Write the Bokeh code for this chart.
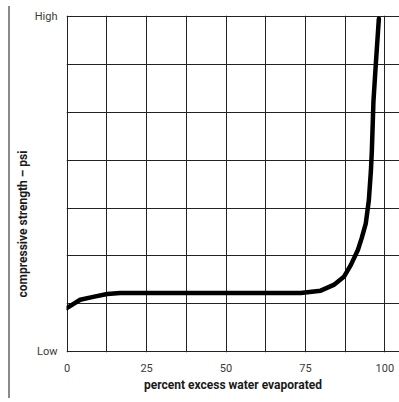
from bokeh.plotting import figure
from bokeh.models import FixedTicker, Range1d, Div
from bokeh.layouts import row
from bokeh.embed import file_html
from bokeh.resources import INLINE

# data
pct_evaporated = [0, 4.1, 8.2, 12.6, 16.7, 73.5, 79.8, 83.9, 87.1, 89.3, 91.5, 92.7, 94.0, 94.95, 95.6, 95.9, 96.4, 97.2, 98.1]
strength = [0.91, 1.08, 1.14, 1.20, 1.22, 1.22, 1.27, 1.39, 1.56, 1.81, 2.12, 2.37, 2.68, 3.16, 3.78, 4.2, 5.23, 6.07, 6.96]
x_ticks = [0, 25, 50, 75, 100]
x_grid = [0, 12.5, 25, 37.5, 50, 62.5, 75, 87.5, 100]
y_grid = [0, 1, 2, 3, 4, 5, 6, 7]
y_tick_labels = {0: "Low", 7: "High"}
x_title = "percent excess water evaporated"
y_title = "compressive strength \u2013 psi"

FONT = "Roboto"

p = figure(width=368, height=400, output_backend="svg", toolbar_location=None,
           x_range=Range1d(-0.2, 104.6), y_range=Range1d(-0.025, 7.03),
           min_border_left=26, min_border_right=0, min_border_top=15, min_border_bottom=48)
p.outline_line_color = None

p.line(pct_evaporated, strength, line_width=4.5, line_color="black", line_cap="round", line_join="round")

p.xgrid.ticker = FixedTicker(ticks=x_grid)
p.ygrid.ticker = FixedTicker(ticks=y_grid)
for g in (p.xgrid, p.ygrid):
    g.grid_line_color = "#222222"
    g.grid_line_width = 1
    g.grid_line_alpha = 1

p.xaxis.ticker = FixedTicker(ticks=x_ticks)
p.yaxis.ticker = FixedTicker(ticks=list(y_tick_labels.keys()))
p.yaxis.major_label_overrides = y_tick_labels

for ax in (p.xaxis, p.yaxis):
    ax.axis_line_color = None
    ax.major_tick_line_color = None
    ax.minor_tick_line_color = None
    ax.major_label_text_font = FONT
    ax.major_label_text_font_size = "11px"
    ax.major_label_text_color = "#3a3a3a"
    ax.axis_label_text_font = FONT
    ax.axis_label_text_font_size = "12px"
    ax.axis_label_text_font_style = "bold"
    ax.axis_label_text_color = "#1a1a1a"
p.xaxis.major_label_standoff = 5
p.yaxis.major_label_standoff = 3
p.xaxis.axis_label = x_title
p.xaxis.axis_label_standoff = 3

side = Div(width=31, height=400, margin=0, text=(
    '<div style="position:relative;width:31px;height:400px;">'
    '<div style="position:absolute;left:8px;top:6px;width:2px;height:392px;background:#8a8a8a;"></div>'
    '<div style="position:absolute;left:23px;top:224px;transform:translate(-50%,-50%) rotate(-90deg);'
    'white-space:nowrap;font:bold 12px Roboto;color:#1a1a1a;">' + y_title + '</div>'
    '</div>'))

layout = row(side, p, spacing=0)
open("out.html", "w").write(file_html(layout, INLINE))
